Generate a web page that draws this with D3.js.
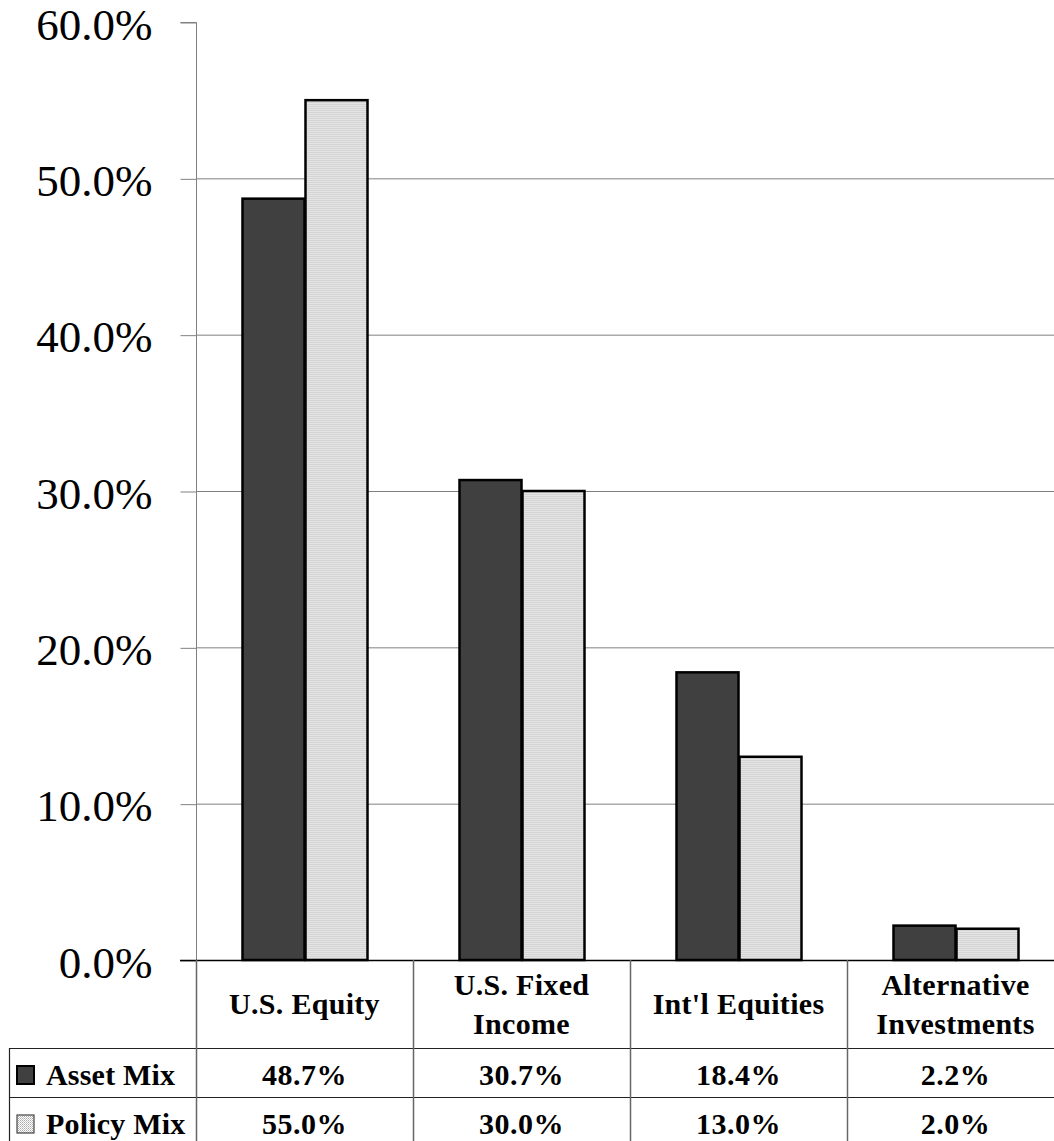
<!DOCTYPE html>
<html>
<head>
<meta charset="utf-8">
<script src="https://cdn.jsdelivr.net/npm/d3@7"></script>
<style>
  html, body { margin: 0; padding: 0; background: #fff; }
  svg { display: block; }
</style>
</head>
<body>
<svg id="chart" width="1054" height="1141"></svg>
<script>
const categories = [["U.S. Equity"], ["U.S. Fixed", "Income"], ["Int'l Equities"], ["Alternative", "Investments"]];
const seriesNames = ["Asset Mix", "Policy Mix"];
const assetMix = [48.7, 30.7, 18.4, 2.2];
const policyMix = [55.0, 30.0, 13.0, 2.0];
const yTicks = [0, 10, 20, 30, 40, 50, 60];

const svg = d3.select("#chart");
const font = '"Liberation Serif"';

const defs = svg.append("defs");
const pat = defs.append("pattern").attr("id", "hatch")
  .attr("patternUnits", "userSpaceOnUse").attr("width", 2).attr("height", 2);
pat.append("rect").attr("width", 2).attr("height", 2).attr("fill", "#ffffff");
pat.append("rect").attr("x", 0).attr("y", 0).attr("width", 1).attr("height", 1).attr("fill", "#a8a8a8");
pat.append("rect").attr("x", 1).attr("y", 1).attr("width", 1).attr("height", 1).attr("fill", "#c8c8c8");

const left = 196, bandW = 217;
const catKeys = categories.map(c => c.join(" "));
const x0 = d3.scaleBand().domain(catKeys).range([left, left + bandW * catKeys.length]).paddingInner(0).paddingOuter(0);
const groupW = 126;
const x1 = d3.scaleBand().domain(seriesNames).range([0, groupW]).padding(0);
const y = d3.scaleLinear().domain([0, 60]).range([960, 22]);

const fills = ["#404040", "url(#hatch)"];

// gridlines
svg.append("g").selectAll("line").data(yTicks.filter(t => t > 0 && t < 60)).join("line")
  .attr("x1", left).attr("x2", 1054)
  .attr("y1", d => y(d) + 0.5).attr("y2", d => y(d) + 0.5)
  .attr("stroke", "#808080").attr("stroke-width", 1);

// y axis
const yAxis = d3.axisLeft(y).tickValues(yTicks).tickSize(16).tickPadding(28)
  .tickFormat(d => d.toFixed(1) + "%");
const ga = svg.append("g").attr("transform", `translate(${left + 0.5},0.5)`).call(yAxis);
ga.attr("font-family", "Liberation Serif").attr("font-size", 45);
ga.select(".domain").attr("stroke", "#808080").attr("d", `M-16,${y(60)}H0V${y(0)}`);
ga.selectAll(".tick line").attr("stroke", "#808080");
ga.selectAll(".tick text").style("font-family", font).attr("font-size", 45)
  .attr("fill", "#000").attr("dy", "0.37em");

// bars
const data = catKeys.map((k, i) => ({ key: k, vals: [assetMix[i], policyMix[i]] }));
const groups = svg.append("g").selectAll("g").data(data).join("g")
  .attr("transform", d => `translate(${x0(d.key) + (bandW - groupW) / 2},0)`);
groups.selectAll("rect").data(d => d.vals.map((v, j) => ({ v, j }))).join("rect")
  .attr("x", d => x1(seriesNames[d.j]) + 1)
  .attr("width", x1.bandwidth() - 1)
  .attr("y", d => y(d.v))
  .attr("height", d => y(0) - y(d.v))
  .attr("fill", d => fills[d.j])
  .attr("stroke", "#000").attr("stroke-width", 2.5);

// table
const tbl = svg.append("g");
const tableRight = 1054;
tbl.append("line").attr("x1", 180).attr("x2", tableRight).attr("y1", 960.5).attr("y2", 960.5).attr("stroke", "#000").attr("stroke-width", 1.5);
[1048, 1097].forEach(yy => {
  tbl.append("line").attr("x1", 9).attr("x2", tableRight).attr("y1", yy + 0.5).attr("y2", yy + 0.5).attr("stroke", "#222").attr("stroke-width", 1.2);
});
x0.domain().forEach(k => {
  tbl.append("line").attr("x1", x0(k) + 0.5).attr("x2", x0(k) + 0.5).attr("y1", 960).attr("y2", 1141)
    .attr("stroke", "#666").attr("stroke-width", 1.5);
});
tbl.append("line").attr("x1", 9.5).attr("x2", 9.5).attr("y1", 1048).attr("y2", 1141).attr("stroke", "#222").attr("stroke-width", 1.2);

// header labels
categories.forEach((lines, i) => {
  const cx = x0(catKeys[i]) + bandW / 2;
  const t = tbl.append("text").attr("text-anchor", "middle").style("font-family", font)
    .attr("font-weight", "bold").attr("font-size", 30).attr("letter-spacing", 0.3).attr("fill", "#000");
  if (lines.length === 1) {
    t.append("tspan").attr("x", cx).attr("y", 1014).text(lines[0]);
  } else {
    t.append("tspan").attr("x", cx).attr("y", 995).text(lines[0]);
    t.append("tspan").attr("x", cx).attr("y", 1034).text(lines[1]);
  }
});

// value rows
const rows = [assetMix, policyMix];
const baselines = [1085, 1134];
rows.forEach((vals, r) => {
  tbl.append("rect").attr("x", 17).attr("y", baselines[r] - 19).attr("width", 17).attr("height", 18)
    .attr("fill", fills[r]).attr("stroke", r === 0 ? "#000" : "#444").attr("stroke-width", r === 0 ? 2 : 1.2);
  tbl.append("text").attr("x", 46).attr("y", baselines[r]).style("font-family", font)
    .attr("font-weight", "bold").attr("font-size", 30).attr("letter-spacing", 0.2).attr("fill", "#000")
    .text(seriesNames[r]);
  vals.forEach((v, i) => {
    tbl.append("text").attr("x", x0(catKeys[i]) + bandW / 2).attr("y", baselines[r])
      .attr("text-anchor", "middle").style("font-family", font).attr("font-weight", "bold")
      .attr("font-size", 30).attr("letter-spacing", 0.5).attr("fill", "#000")
      .text(v.toFixed(1) + "%");
  });
});
</script>
</body>
</html>
